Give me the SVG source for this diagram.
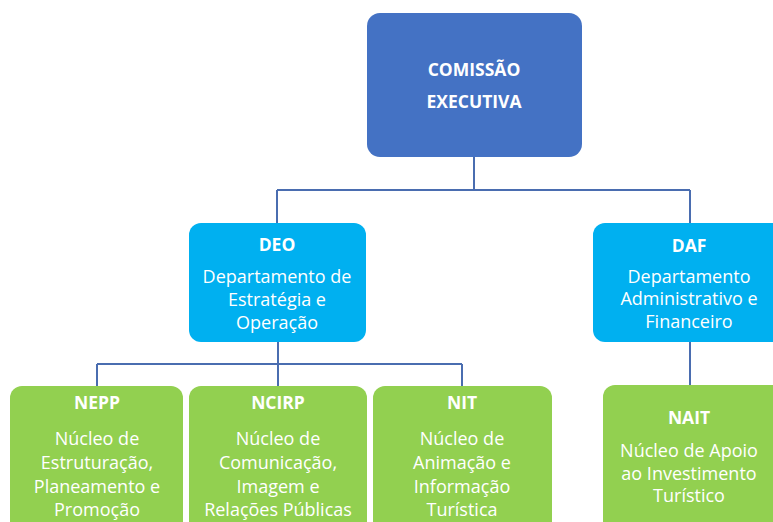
<svg xmlns="http://www.w3.org/2000/svg" width="773" height="522" viewBox="0 0 773 522">
<style>
.box{stroke:none}
.top{fill:#4472C4}
.dept{fill:#00B0F0}
.nuc{fill:#92D050}
text{font-family:"Open Sans","Liberation Sans",sans-serif;fill:#ffffff;text-anchor:middle}
.t{font-weight:bold;font-size:17.5px}
.b{font-size:18px}
.conn{fill:none;stroke:#4A6DB0;stroke-width:2}
</style>
<rect width="773" height="522" fill="#ffffff"/>
<g id="connectors">
<path class="conn" d="M474 157V190M277 190H690M277 190V223M690 190V223"/>
<path class="conn" d="M278 341V386M97 364H462M97 364V386M462 364V386"/>
<path class="conn" d="M690 341V385"/>
</g>
<g id="comissao">
<rect class="box top" x="367" y="13" width="215" height="144" rx="13"/>
<text class="t" x="474" y="76">COMISSÃO</text>
<text class="t" x="474" y="108">EXECUTIVA</text>
</g>
<g id="deo">
<rect class="box dept" x="189" y="223" width="177" height="119" rx="12"/>
<text class="t" x="277" y="251">DEO</text>
<text class="b" x="277" y="283">Departamento de</text>
<text class="b" x="277" y="306">Estratégia e</text>
<text class="b" x="277" y="329">Operação</text>
</g>
<g id="daf">
<rect class="box dept" x="593" y="223" width="200" height="119" rx="12"/>
<text class="t" x="689" y="252">DAF</text>
<text class="b" x="689" y="283">Departamento</text>
<text class="b" x="689" y="305">Administrativo e</text>
<text class="b" x="689" y="328">Financeiro</text>
</g>
<g id="nepp">
<rect class="box nuc" x="10" y="386" width="173" height="150" rx="12"/>
<text class="t" x="97" y="409">NEPP</text>
<text class="b" x="97" y="445">Núcleo de</text>
<text class="b" x="97" y="469">Estruturação,</text>
<text class="b" x="97" y="493">Planeamento e</text>
<text class="b" x="97" y="516">Promoção</text>
</g>
<g id="ncirp">
<rect class="box nuc" x="189" y="386" width="178" height="150" rx="12"/>
<text class="t" x="278" y="409">NCIRP</text>
<text class="b" x="278" y="445">Núcleo de</text>
<text class="b" x="278" y="469">Comunicação,</text>
<text class="b" x="278" y="493">Imagem e</text>
<text class="b" x="278" y="516">Relações Públicas</text>
</g>
<g id="nit">
<rect class="box nuc" x="373" y="386" width="179" height="150" rx="12"/>
<text class="t" x="462" y="409">NIT</text>
<text class="b" x="462" y="445">Núcleo de</text>
<text class="b" x="462" y="469">Animação e</text>
<text class="b" x="462" y="493">Informação</text>
<text class="b" x="462" y="516">Turística</text>
</g>
<g id="nait">
<rect class="box nuc" x="603" y="385" width="185" height="150" rx="12"/>
<text class="t" x="689" y="424">NAIT</text>
<text class="b" x="689" y="457">Núcleo de Apoio</text>
<text class="b" x="689" y="480">ao Investimento</text>
<text class="b" x="689" y="502">Turístico</text>
</g>
</svg>
